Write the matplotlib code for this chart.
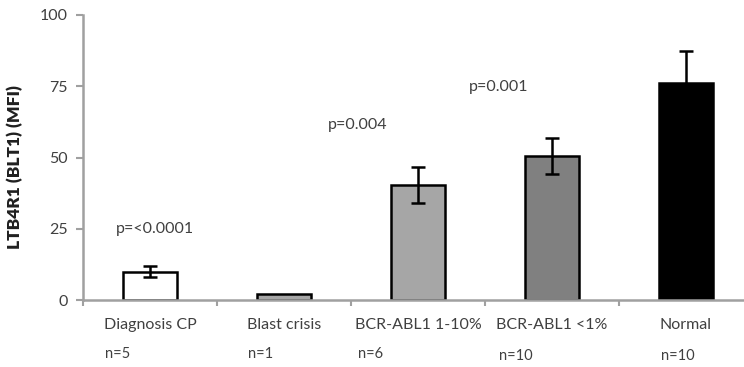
import matplotlib
matplotlib.use("Agg")
import matplotlib.pyplot as plt

plt.rcParams['font.family'] = ['Lato', 'DejaVu Sans']

categories = ["Diagnosis CP", "Blast crisis", "BCR-ABL1 1-10%", "BCR-ABL1 <1%", "Normal"]
means = [10.0, 2.0, 40.4, 50.6, 76.3]
errors = [2.0, 0.0, 6.3, 6.3, 11.2]
bar_colors = ["#ffffff", "#a6a6a6", "#a6a6a6", "#808080", "#000000"]
n_labels = ["n=5", "n=1", "n=6", "n=10", "n=10"]
p_labels = ["p=<0.0001", "p=0.004", "p=0.001"]
p_pos = [(0.04, 25.0), (1.55, 61.3), (2.6, 74.6)]

axis_grey = "#a0a0a0"
text_grey = "#404040"

fig = plt.figure(figsize=(7.44, 3.67), dpi=100)
ax = fig.add_axes([83 / 744, 67 / 367, 670 / 744, 285 / 367])

x = list(range(len(categories)))
ax.bar(x, means, width=0.41, color=bar_colors, edgecolor="black", linewidth=1.8, zorder=2)
for xi, m, e in zip(x, means, errors):
    if e > 0:
        ax.errorbar(xi, m, yerr=e, fmt="none", ecolor="black", elinewidth=1.8,
                    capsize=5, capthick=1.8, zorder=3)

ax.set_xlim(-0.5, 4.5)
ax.set_ylim(0, 100)
ax.set_yticks([0, 25, 50, 75, 100])
ax.set_xticks([i - 0.5 for i in range(len(categories) + 1)])
ax.set_xticklabels([])
ax.tick_params(axis="y", colors=axis_grey, labelcolor=text_grey, labelsize=11.5,
               length=5, width=1.5, direction="out", pad=6)
ax.tick_params(axis="x", colors=axis_grey, length=4, width=1.5, direction="out")

for side in ["top", "right"]:
    ax.spines[side].set_visible(False)
for side in ["left", "bottom"]:
    ax.spines[side].set_color(axis_grey)
    ax.spines[side].set_linewidth(1.8)

# category names and group sizes below the axis
for xi, name in zip(x, categories):
    ax.text(xi, -8.8, name, ha="center", va="center", fontsize=11.5, color=text_grey)
nx = [-0.336, 0.731, 1.552, 2.604, 3.813]
ny = [-19, -19, -19, -19.8, -19.8]
for xi, yi, lab in zip(nx, ny, n_labels):
    ax.text(xi, yi, lab, ha="left", va="center", fontsize=10.5, color=text_grey)

for (px, py), lab in zip(p_pos, p_labels):
    ax.text(px, py, lab, ha="center", va="center", fontsize=11.5, color=text_grey)

ax.set_ylabel("LTB4R1 (BLT1) (MFI)", fontsize=12.5, fontweight="heavy", color="#202020")
ax.yaxis.set_label_coords(-0.09, 0.467)

fig.savefig("out.png", dpi=100)
